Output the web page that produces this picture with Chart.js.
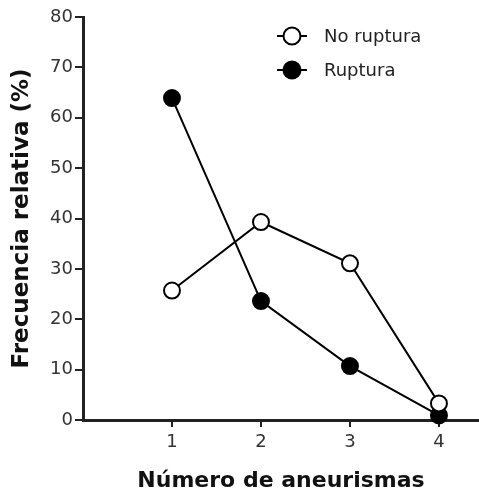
<!DOCTYPE html>
<html>
<head>
<meta charset="utf-8">
<script src="https://cdn.jsdelivr.net/npm/chart.js@4/dist/chart.umd.min.js"></script>
<style>
  html, body { margin: 0; padding: 0; background: #fff; }
  #wrap { width: 479px; height: 498px; }
</style>
</head>
<body>
<div id="wrap"><canvas id="chart" width="479" height="498"></canvas></div>
<script>
// values
const numeros = [1, 2, 3, 4];
const noRuptura = [25.7, 39.3, 31.1, 3.3];
const ruptura = [63.9, 23.6, 10.7, 0.9];
const xTicks = [1, 2, 3, 4];
const seriesLabels = ["No ruptura", "Ruptura"];

const FONT = "'DejaVu Sans', Verdana, sans-serif";

// legend drawn like the original: short line stub through the marker
const lineLegend = {
  id: "lineLegend",
  afterDraw(chart) {
    const ctx = chart.ctx;
    chart.data.datasets.forEach((ds, i) => {
      const y = 36 + i * 34, cx = 292;
      ctx.save();
      ctx.strokeStyle = "#000"; ctx.lineWidth = 2;
      ctx.beginPath(); ctx.moveTo(cx - 15, y); ctx.lineTo(cx + 15, y); ctx.stroke();
      ctx.beginPath(); ctx.arc(cx, y, 8.5, 0, Math.PI * 2);
      ctx.fillStyle = ds.pointBackgroundColor; ctx.fill(); ctx.stroke();
      ctx.fillStyle = "#222"; ctx.font = "18px " + FONT;
      ctx.textBaseline = "middle";
      ctx.fillText(ds.label, 324, y + 1);
      ctx.restore();
    });
  }
};

const mk = (label, vals, fill) => ({
  label, data: numeros.map((x, i) => ({ x, y: vals[i] })),
  borderColor: "#000", borderWidth: 2,
  pointBackgroundColor: fill, pointBorderColor: "#000", pointBorderWidth: 2,
  pointRadius: 8, showLine: true, tension: 0, clip: false,
});

new Chart(document.getElementById("chart"), {
  type: "scatter",
  data: { datasets: [mk(seriesLabels[0], noRuptura, "#fff"), mk(seriesLabels[1], ruptura, "#000")] },
  options: {
    responsive: false, animation: false,
    layout: { autoPadding: false, padding: { top: 17, right: 0, left: 0, bottom: 0 } },
    plugins: { legend: { display: false }, tooltip: { enabled: false } },
    scales: {
      x: {
        type: "linear", min: 0, max: 4.45,
        afterBuildTicks: (s) => { s.ticks = xTicks.map((v) => ({ value: v })); },
        afterFit: (s) => { s.height = 78; s.paddingLeft = 0; s.paddingRight = 0; },
        border: { color: "#222", width: 3 },
        grid: { drawOnChartArea: false, drawTicks: true, tickLength: 7, color: "#222", lineWidth: 2 },
        ticks: { color: "#333", font: { family: FONT, size: 18 }, padding: 5 },
        title: { display: true, text: "Número de aneurismas", color: "#111",
          font: { family: FONT, size: 22, weight: "bold" }, padding: { top: 4, bottom: 4 } },
      },
      y: {
        min: 0, max: 80,
        ticks: { stepSize: 10, color: "#333", font: { family: FONT, size: 18 }, padding: 2 },
        afterFit: (s) => { s.width = 83; },
        border: { color: "#222", width: 3 },
        grid: { drawOnChartArea: false, drawTicks: true, tickLength: 8, color: "#222", lineWidth: 2 },
        title: { display: true, text: "Frecuencia relativa (%)", color: "#111",
          font: { family: FONT, size: 23, weight: "bold" }, padding: { top: 8, bottom: 4 } },
      },
    },
  },
  plugins: [lineLegend],
});
</script>
</body>
</html>
